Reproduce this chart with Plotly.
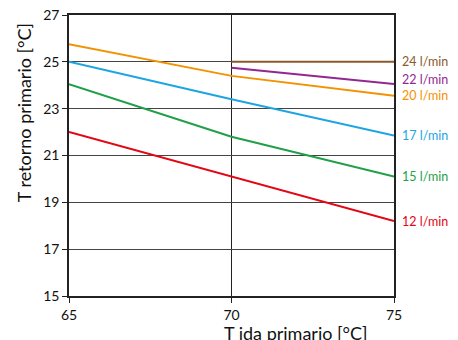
import plotly.graph_objects as go

# ── data ──────────────────────────────────────────────
t_ida = [65, 70, 75]
caudal_12 = [22.0, 20.1, 18.2]
caudal_15 = [24.05, 21.8, 20.1]
caudal_17 = [25.0, 23.4, 21.85]
caudal_20 = [25.75, 24.4, 23.55]
caudal_22 = [None, 24.75, 24.05]
caudal_24 = [None, 25.0, 25.0]

series = [
    ("12 l/min", caudal_12, "#E30613", 0),
    ("15 l/min", caudal_15, "#1FA048", 0),
    ("17 l/min", caudal_17, "#1DA5E3", 0),
    ("20 l/min", caudal_20, "#F39200", 0),
    ("22 l/min", caudal_22, "#93278F", 5),
    ("24 l/min", caudal_24, "#8B5A2B", 0),
]

FONT = "Lato"

fig = go.Figure()
for name, vals, color, yshift in series:
    fig.add_trace(go.Scatter(
        x=t_ida, y=vals, mode="lines", name=name,
        line=dict(color=color, width=2), connectgaps=False,
    ))
    fig.add_annotation(
        x=t_ida[-1], y=vals[-1], xref="x", yref="y",
        text=name, showarrow=False, xanchor="left",
        xshift=6, yshift=yshift,
        font=dict(family=FONT, size=12.5, color=color),
    )

# axis titles (offset like the original)
fig.add_annotation(
    x=-0.138, y=0.651, xref="paper", yref="paper",
    xanchor="center", yanchor="middle",
    text="T retorno primario [°C]", textangle=-90, showarrow=False,
    font=dict(family=FONT, size=18, color="#111"),
)
fig.add_annotation(
    x=0.698, y=-0.085, xref="paper", yref="paper",
    xanchor="center", yanchor="top",
    text="T ida primario [°C]", showarrow=False,
    font=dict(family=FONT, size=18, color="#111"),
)

axis_style = dict(
    showgrid=True, gridwidth=1.2,
    showline=True, linecolor="#222", linewidth=1.5, mirror=True,
    ticks="outside", ticklen=5, tickcolor="#222",
    zeroline=False, ticklabeloverflow="allow", automargin=False,
    tickfont=dict(family=FONT, size=14, color="#111"),
)
fig.update_xaxes(range=[65, 75], tickvals=[65, 70, 75],
                 gridcolor="#222", **axis_style)
fig.update_yaxes(range=[15, 27], tickvals=[15, 17, 19, 21, 23, 25, 27],
                 gridcolor="#444", **axis_style)

# the page adds an 8px body margin, so the figure is a bit smaller
fig.update_layout(
    width=450, height=332,
    margin=dict(l=61, r=64, t=7, b=44),
    plot_bgcolor="white", paper_bgcolor="white",
    showlegend=False,
)

fig.write_html("out.html")
